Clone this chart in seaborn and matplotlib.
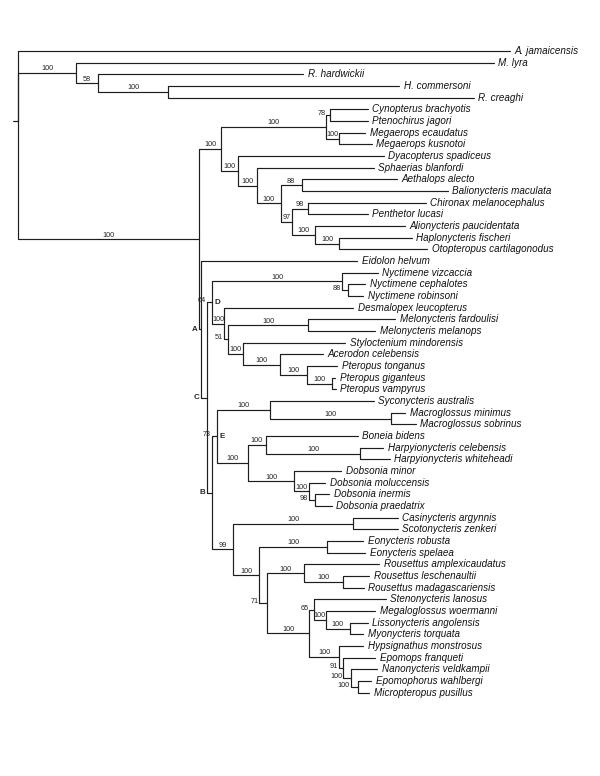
import numpy as np
import pandas as pd
import matplotlib
matplotlib.use("Agg")
import matplotlib.pyplot as plt
import seaborn as sns

# terminal taxa, top to bottom
taxa = [
    "A. jamaicensis", "M. lyra", "R. hardwickii", "H. commersoni", "R. creaghi",
    "Cynopterus brachyotis", "Ptenochirus jagori", "Megaerops ecaudatus", "Megaerops kusnotoi",
    "Dyacopterus spadiceus", "Sphaerias blanfordi", "Aethalops alecto", "Balionycteris maculata",
    "Chironax melanocephalus", "Penthetor lucasi", "Alionycteris paucidentata",
    "Haplonycteris fischeri", "Otopteropus cartilagonodus", "Eidolon helvum",
    "Nyctimene vizcaccia", "Nyctimene cephalotes", "Nyctimene robinsoni",
    "Desmalopex leucopterus", "Melonycteris fardoulisi", "Melonycteris melanops",
    "Styloctenium mindorensis", "Acerodon celebensis", "Pteropus tonganus",
    "Pteropus giganteus", "Pteropus vampyrus", "Syconycteris australis",
    "Macroglossus minimus", "Macroglossus sobrinus", "Boneia bidens",
    "Harpyionycteris celebensis", "Harpyionycteris whiteheadi", "Dobsonia minor",
    "Dobsonia moluccensis", "Dobsonia inermis", "Dobsonia praedatrix",
    "Casinycteris argynnis", "Scotonycteris zenkeri", "Eonycteris robusta",
    "Eonycteris spelaea", "Rousettus amplexicaudatus", "Rousettus leschenaultii",
    "Rousettus madagascariensis", "Stenonycteris lanosus", "Megaloglossus woermanni",
    "Lissonycteris angolensis", "Myonycteris torquata", "Hypsignathus monstrosus",
    "Epomops franqueti", "Nanonycteris veldkampii", "Epomophorus wahlbergi",
    "Micropteropus pusillus",
]

# depth of each tip from the root
tip_depth = [
    492, 476, 285, 381, 456,
    350, 350, 347, 354,
    366, 356, 379, 430,
    408, 350, 387,
    394, 409, 339,
    360, 347, 345,
    335, 377, 357,
    327, 305, 319,
    317, 318, 356,
    387, 398, 340,
    365, 372, 323,
    307, 311, 314,
    380, 380, 345,
    347, 361, 351,
    346, 368, 357,
    350, 345, 345,
    357, 359, 353,
    351,
]

# internal nodes, listed children-first
node_names = [
    "hr", "r58", "out",
    "cp", "me", "cyn", "ab", "chp", "ho", "alio", "n97", "nab", "nsph", "ndy", "n1",
    "ncr", "nyc", "mel", "pgv", "pt", "acp", "sty", "n51", "x100", "D",
    "mac", "syc", "harp", "bh", "dip", "dm", "dob", "hd", "E",
    "cs", "eon", "rlm", "rou", "lm", "mlm", "s65", "em", "nem", "n91", "hyp",
    "steno", "n71", "n100b", "n99", "B", "C", "A", "ingroup", "root",
]
node_children = [
    ["H. commersoni", "R. creaghi"], ["R. hardwickii", "hr"], ["M. lyra", "r58"],
    ["Cynopterus brachyotis", "Ptenochirus jagori"], ["Megaerops ecaudatus", "Megaerops kusnotoi"],
    ["cp", "me"], ["Aethalops alecto", "Balionycteris maculata"],
    ["Chironax melanocephalus", "Penthetor lucasi"],
    ["Haplonycteris fischeri", "Otopteropus cartilagonodus"],
    ["Alionycteris paucidentata", "ho"], ["chp", "alio"], ["ab", "n97"],
    ["Sphaerias blanfordi", "nab"], ["Dyacopterus spadiceus", "nsph"], ["cyn", "ndy"],
    ["Nyctimene cephalotes", "Nyctimene robinsoni"], ["Nyctimene vizcaccia", "ncr"],
    ["Melonycteris fardoulisi", "Melonycteris melanops"],
    ["Pteropus giganteus", "Pteropus vampyrus"], ["Pteropus tonganus", "pgv"],
    ["Acerodon celebensis", "pt"], ["Styloctenium mindorensis", "acp"], ["mel", "sty"],
    ["Desmalopex leucopterus", "n51"], ["nyc", "x100"],
    ["Macroglossus minimus", "Macroglossus sobrinus"], ["Syconycteris australis", "mac"],
    ["Harpyionycteris celebensis", "Harpyionycteris whiteheadi"], ["Boneia bidens", "harp"],
    ["Dobsonia inermis", "Dobsonia praedatrix"], ["Dobsonia moluccensis", "dip"],
    ["Dobsonia minor", "dm"], ["bh", "dob"], ["syc", "hd"],
    ["Casinycteris argynnis", "Scotonycteris zenkeri"],
    ["Eonycteris robusta", "Eonycteris spelaea"],
    ["Rousettus leschenaultii", "Rousettus madagascariensis"],
    ["Rousettus amplexicaudatus", "rlm"],
    ["Lissonycteris angolensis", "Myonycteris torquata"], ["Megaloglossus woermanni", "lm"],
    ["Stenonycteris lanosus", "mlm"],
    ["Epomophorus wahlbergi", "Micropteropus pusillus"], ["Nanonycteris veldkampii", "em"],
    ["Epomops franqueti", "nem"], ["Hypsignathus monstrosus", "n91"],
    ["s65", "hyp"], ["rou", "steno"], ["eon", "n71"], ["cs", "n100b"],
    ["E", "n99"], ["D", "B"], ["Eidolon helvum", "C"], ["n1", "A"],
    ["A. jamaicensis", "out", "ingroup"],
]
node_depth = [
    150, 80, 58,
    312.3, 321.3, 308.3, 283.7, 290.3, 321.3, 297, 273.7, 262.7, 238.7, 220.3, 202.7,
    329.7, 323.7, 290.3, 313.7, 288.7, 262, 225.3, 210.3, 206.3, 194.3,
    372.7, 252, 342, 248, 297, 291.3, 276.3, 229.7, 199.3,
    335.3, 308.7, 325.3, 286.3, 332, 307.7, 296, 340.3, 332.7, 325.3, 321.3,
    291.3, 249.3, 241.3, 215.3, 193.7, 188.7, 183, 181.3, 0,
]
# support on the branch leading to each node
node_support = [
    "100", "58", "100",
    "78", "100", "100", "88", "98", "100", "100", "97", "100", "100", "100", "100",
    "88", "100", "100", "100", "100", "100", "100", "51", "100", "64",
    "100", "100", "100", "100", "98", "100", "100", "100", "73",
    "100", "100", "100", "100", "100", "100", "65", "100", "100", "91", "100",
    "100", "71", "100", "99", "", "", "", "100", "",
]
clade_letters = ["A", "B", "C", "D", "E"]
letters_right = ["D", "E"]

# layout
pos = {t: (d, i) for i, (t, d) in enumerate(zip(taxa, tip_depth))}
parent = {}
for name, kids, d in zip(node_names, node_children, node_depth):
    pos[name] = (d, np.mean([pos[k][1] for k in kids]))
    for k in kids:
        parent[k] = name
support = dict(zip(node_names, node_support))

rows = []
for seg, (child, par) in enumerate(parent.items()):
    (px, py), (cx, cy) = pos[par], pos[child]
    for order, (x, y) in enumerate([(px, py), (px, cy), (cx, cy)]):
        rows.append(dict(seg=seg, order=order, x=x, y=y))
rx, ry = pos["root"]
for order, x in enumerate([rx - 5, rx]):
    rows.append(dict(seg=-1, order=order, x=x, y=ry))
segs = pd.DataFrame(rows)

sns.set_style("white")
plt.rcParams["font.family"] = ["Liberation Sans Narrow", "Liberation Sans", "DejaVu Sans"]

fig = plt.figure(figsize=(6, 7.76), dpi=100)
ax = fig.add_axes([0, 0, 1, 1])
sns.lineplot(data=segs, x="x", y="y", units="seg", estimator=None, sort=False,
             color="#1e1e1e", lw=0.85, legend=False, ax=ax)

# 1 x-unit = 1 px; tips 11.667 px apart, first tip 51 px from top
step = 11.667
ax.set_xlim(-18, 582)
ax.set_ylim(55 + (776 - 692.7) / step, -51 / step)
ax.axis("off")
py = 1 / step

for t in taxa:
    x, y = pos[t]
    ax.text(x + 4.5, y, t, fontsize=7.1, style="italic", va="center", ha="left", color="#111")

for name in node_names:
    lab = support[name]
    if not lab or name not in parent:
        continue
    cx, cy = pos[name]
    px = pos[parent[name]][0]
    if cx - px < 10:
        ax.text(px - 1, cy - 1.5 * py, lab, fontsize=5.2, ha="right", va="center", color="#222")
    else:
        ax.text((px + cx) / 2, cy - 2.5 * py, lab, fontsize=5.2, ha="center", va="baseline", color="#222")

for name in clade_letters:
    cx, cy = pos[name]
    px = pos[parent[name]][0]
    if name in letters_right:
        ax.text(cx + 2.5, cy, name, fontsize=5.8, weight="bold", ha="left", va="center")
    else:
        ax.text(px - 1.5, cy, name, fontsize=5.8, weight="bold", ha="right", va="center")

fig.savefig("out.png", dpi=100, facecolor="white")
